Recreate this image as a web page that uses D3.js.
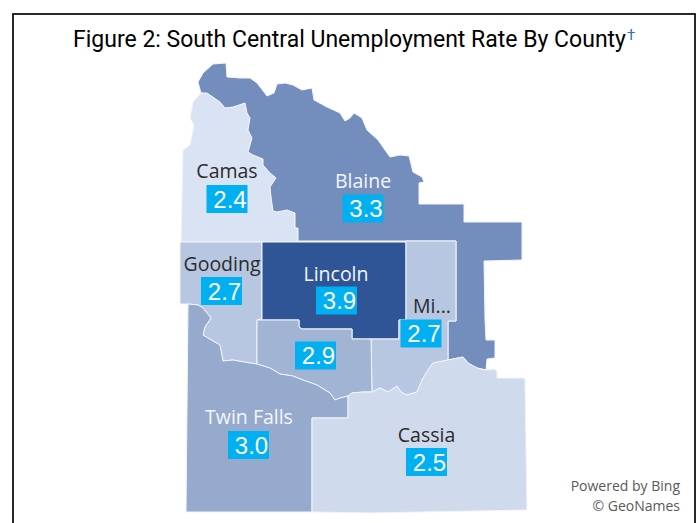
<!DOCTYPE html>
<html>
<head>
<meta charset="utf-8">
<script src="https://cdn.jsdelivr.net/npm/d3@7/dist/d3.min.js"></script>
<style>
  html, body { margin: 0; padding: 0; background: #fff; }
  svg { display: block; }
</style>
</head>
<body>
<svg id="map" width="700" height="523"></svg>
<script>
// Unemployment rate by county
const counties = ["Camas", "Blaine", "Gooding", "Lincoln", "Minidoka", "Jerome", "Twin Falls", "Cassia"];
const rates = [2.4, 3.3, 2.7, 3.9, 2.7, 2.9, 3.0, 2.5];
const displayNames = ["Camas", "Blaine", "Gooding", "Lincoln", "Mi...", "", "Twin Falls", "Cassia"];

// Shared county boundaries, in map grid units
const camasBlaine = [[21,33],[27,33],[40,42],[45,48],[53,47],[65,43],[67,53],[70,58],[68,70],[72,78],[68,92],[73,95],[83,99],[83,105],[90,113],[96,118],[90,127],[91,137],[93,151],[97,152],[107,150],[115,153],[115,168],[118,168],[118,182]];
const camasWest = [[118,182],[1,182],[3,90],[10,85],[14,65],[10,58],[13,42],[21,33]];
const blaineOuter = [[21,33],[18,22],[23,13],[33,4],[46,3],[47,17],[60,18],[70,18],[77,23],[84,32],[87,36],[94,33],[97,24],[105,23],[113,25],[122,30],[132,28],[134,40],[147,47],[160,53],[165,61],[170,58],[174,53],[182,58],[187,70],[198,80],[205,90],[210,97],[220,95],[229,96],[233,112],[242,117],[244,122],[239,123],[239,144],[284,144],[284,162],[342,162],[342,200],[304,201],[305,260],[306,280],[315,280],[315,298],[307,299],[306,310]];
const blaineCassia = [[306,310],[297,308],[288,303],[283,297],[268,300]];
const blaineMinidoka = [[268,300],[268,261],[276,261],[276,181]];
const minidokaLincoln = [[226,181],[226,260],[219,260],[219,279],[191,279]];
const minidokaCassia = [[268,300],[253,303],[248,310],[242,320],[237,332],[227,335],[221,332],[217,326],[208,332],[200,328],[192,332]];
const jeromeCassia = [[192,332],[183,332],[172,333],[168,336]];
const jeromeRiver = [[168,336],[160,338],[155,340],[150,333],[137,325],[123,320],[113,316],[100,314],[90,308],[77,304]];
const goodingRiver = [[77,304],[70,303],[53,300],[43,301],[40,285],[28,278],[23,275],[25,267],[31,258],[23,248],[18,245],[8,244]];
const lincolnSouth = [[191,279],[172,279],[172,269],[122,269],[119,267],[119,260],[77,260],[82,259]];
const twinFallsOuter = [[8,244],[6,452],[132,452],[132,358],[168,358],[168,336]];
const cassiaOuter = [[306,310],[314,309],[317,311],[317,318],[345,318],[347,450],[192,453],[132,452]];

// GeoJSON polygons assembled from the shared boundaries
const rings = {
  Camas: [...camasBlaine, ...camasWest],
  Blaine: [...blaineOuter, ...blaineCassia, ...blaineMinidoka, ...[[118,181]], ...camasBlaine.slice().reverse()],
  Gooding: [[0,182],[82,182],[82,259],[77,260],[77,304],...goodingRiver.slice(1),[0,244]],
  Lincoln: [[82,182],[226,182],...minidokaLincoln.slice(1),...lincolnSouth.slice(1)],
  Minidoka: [[226,181],[276,181],[276,261],[268,261],[268,300],...minidokaCassia.slice(1),[191,279],[219,279],[219,260],[226,260]],
  Jerome: [...lincolnSouth.slice(0,-1),...jeromeRiver.slice().reverse(),...jeromeCassia.slice().reverse(),[192,332]],
  "Twin Falls": [...twinFallsOuter,...jeromeRiver.slice(1),...goodingRiver.slice(1)],
  Cassia: [...cassiaOuter,[132,358],[168,358],...jeromeCassia.slice().reverse(),...minidokaCassia.slice().reverse(),...blaineCassia.slice().reverse()]
};

const features = counties.map((name, i) => ({
  type: "Feature",
  properties: { name, rate: rates[i], label: displayNames[i] },
  geometry: { type: "Polygon", coordinates: [[...rings[name], rings[name][0]]] }
}));

const svg = d3.select("#map");
const projection = d3.geoIdentity().scale(1).translate([180, 60]);
const path = d3.geoPath(projection);
const color = d3.scaleLinear().domain([2.4, 3.9]).range(["#DAE3F3", "#2F5597"]);

// Outer frame of the figure
svg.append("rect")
  .attr("x", 13).attr("y", 14)
  .attr("width", 682).attr("height", 530)
  .attr("fill", "#fff").attr("stroke", "#111").attr("stroke-width", 1.8);

// Title with a superscript dagger
svg.append("text")
  .attr("x", 73).attr("y", 46.5)
  .attr("font-family", "Roboto, sans-serif")
  .attr("font-size", 23)
  .attr("fill", "#000")
  .text("Figure 2: South Central Unemployment Rate By County");
svg.append("text")
  .attr("x", 627).attr("y", 40)
  .attr("font-family", "Roboto, sans-serif")
  .attr("font-size", 15)
  .attr("fill", "#2F6FC0")
  .text("†");

// County shapes, coloured by rate
svg.append("g").selectAll("path")
  .data(features)
  .join("path")
  .attr("d", path)
  .attr("fill", d => color(d.properties.rate))
  .attr("stroke", "#F2F5FA")
  .attr("stroke-width", 1)
  .attr("stroke-linejoin", "round");

// Name and rate placement per county, in map grid units: name centre, name baseline, rate box centre
const placement = {
  Camas: [47, 118, 47, 139],
  Blaine: [183, 128, 183, 148.5],
  Gooding: [42, 211, 41.5, 231],
  Lincoln: [156, 221, 156.5, 240.5],
  Minidoka: [252, 253, 241, 273.5],
  Jerome: [135, 0, 135.5, 295.5],
  "Twin Falls": [69, 364, 68.5, 385],
  Cassia: [246.5, 382, 246.5, 402]
};
const darkLabels = new Set(["Camas", "Gooding", "Minidoka", "Cassia"]);

const labels = svg.append("g").selectAll("g")
  .data(features)
  .join("g");

labels.filter(d => d.properties.label)
  .append("text")
  .attr("x", d => projection([placement[d.properties.name][0], 0])[0])
  .attr("y", d => projection([0, placement[d.properties.name][1]])[1])
  .attr("text-anchor", "middle")
  .attr("font-family", "'Open Sans', sans-serif")
  .attr("font-size", 19.5)
  .attr("fill", d => darkLabels.has(d.properties.name) ? "#2B2B2B" : "#F4F6FA")
  .text(d => d.properties.label);

labels.append("rect")
  .attr("x", d => projection([placement[d.properties.name][2], 0])[0] - 20.5)
  .attr("y", d => projection([0, placement[d.properties.name][3]])[1] - 14)
  .attr("width", 41).attr("height", 28)
  .attr("fill", "#00B0F0");

// Rate figures sit slightly right of the box centre
labels.append("text")
  .attr("x", d => projection([placement[d.properties.name][2], 0])[0] + 3)
  .attr("y", d => projection([0, placement[d.properties.name][3]])[1] + 8.5)
  .attr("text-anchor", "middle")
  .attr("font-family", "'Liberation Sans', Arial, sans-serif")
  .attr("font-size", 24)
  .attr("fill", "#fff")
  .text(d => d3.format(".1f")(d.properties.rate));

// Map attribution
svg.append("g")
  .attr("font-family", "'Open Sans', sans-serif")
  .attr("font-size", 14)
  .attr("fill", "#595959")
  .attr("text-anchor", "end")
  .selectAll("text")
  .data(["Powered by Bing", "© GeoNames"])
  .join("text")
  .attr("x", 680)
  .attr("y", (d, i) => 491 + i * 20)
  .text(d => d);
</script>
</body>
</html>
